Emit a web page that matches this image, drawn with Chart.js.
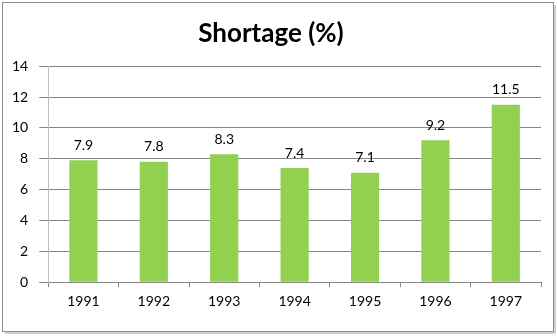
<!DOCTYPE html>
<html>
<head>
<meta charset="utf-8">
<script src="https://cdn.jsdelivr.net/npm/chart.js@4/dist/chart.umd.min.js"></script>
<style>
  body { margin: 0; background: #fff; }
  #wrap { position: relative; width: 557px; height: 336px; }
</style>
</head>
<body>
<div id="wrap"><canvas id="chart" width="557" height="336"></canvas></div>
<script>
const years = ['1991', '1992', '1993', '1994', '1995', '1996', '1997'];
const shortage = [7.9, 7.8, 8.3, 7.4, 7.1, 9.2, 11.5];
const yTicks = [0, 2, 4, 6, 8, 10, 12, 14];

const font = "Lato, 'Liberation Sans', sans-serif";

// frame with a little shadow, like the spreadsheet chart box
const frame = {
    id: 'frame',
    beforeDraw(chart) {
        const c = chart.ctx;
        c.save();
        c.fillStyle = '#fff';
        c.fillRect(0, 0, chart.width, chart.height);
        c.fillStyle = '#d0d0d0';
        c.fillRect(5, 5, 551, 329);
        c.fillStyle = '#fff';
        c.fillRect(2, 2, 551, 329);
        c.strokeStyle = '#8c8c8c';
        c.lineWidth = 1;
        c.strokeRect(2.5, 2.5, 551, 329);
        c.restore();
    }
};

// value labels above each bar
const barLabels = {
    id: 'barLabels',
    afterDatasetsDraw(chart) {
        const c = chart.ctx;
        const meta = chart.getDatasetMeta(0);
        c.save();
        c.font = '14px ' + font;
        c.fillStyle = '#000';
        c.textAlign = 'center';
        c.textBaseline = 'bottom';
        meta.data.forEach((bar, i) => {
            c.fillText(shortage[i].toFixed(1), bar.x, bar.y - 8);
        });
        c.restore();
    }
};

let ctx = document.getElementById('chart');
let barChart = new Chart(ctx, {
    type: 'bar',
    data: {
        labels: years,
        datasets: [{
            data: shortage,
            backgroundColor: '#92d050',
            borderWidth: 0,
            barPercentage: 0.4,
            categoryPercentage: 1
        }]
    },
    options: {
        responsive: false,
        animation: false,
        layout: {
            padding: { top: 18, left: 1, right: 16, bottom: 20 }
        },
        scales: {
            x: {
                offset: true,
                grid: {
                    offset: true,
                    drawOnChartArea: false,
                    drawTicks: true,
                    tickLength: 5,
                    color: '#868686'
                },
                border: { color: '#868686' },
                ticks: {
                    color: '#000',
                    padding: 6,
                    font: { family: font, size: 14 }
                }
            },
            y: {
                min: 0,
                max: 14,
                afterBuildTicks(axis) {
                    axis.ticks = yTicks.map(v => ({ value: v }));
                },
                grid: {
                    color: '#868686',
                    tickLength: 9
                },
                border: { color: '#bfbfbf' },
                ticks: {
                    color: '#000',
                    padding: 11,
                    font: { family: font, size: 14 }
                }
            }
        },
        plugins: {
            legend: { display: false },
            tooltip: { enabled: false },
            title: {
                display: true,
                text: 'Shortage (%)',
                color: '#000',
                font: { family: font, size: 26, weight: 'bold' },
                padding: { top: 0, bottom: 17 }
            }
        }
    },
    plugins: [frame, barLabels]
});
</script>
</body>
</html>
